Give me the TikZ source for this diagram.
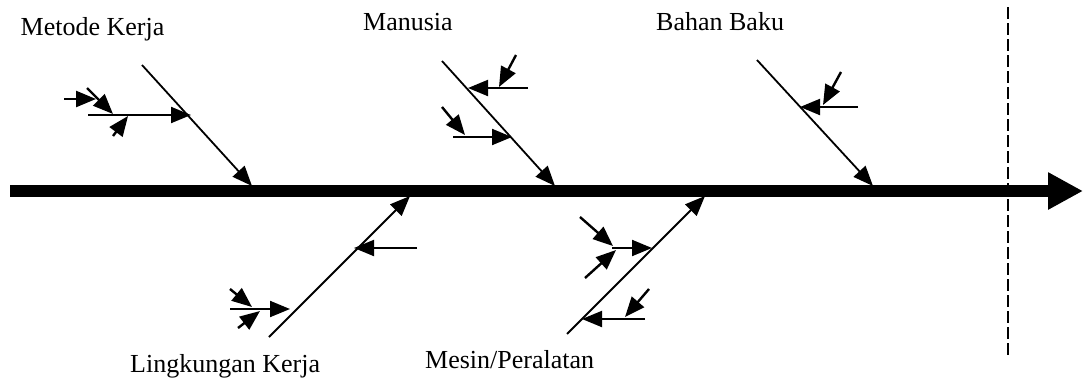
\documentclass[tikz,border=0pt]{standalone}
\usepackage{fontspec}
\setmainfont{Liberation Serif}
\usetikzlibrary{arrows.meta}
\begin{document}
\begin{tikzpicture}[x=1pt,y=-1pt,
  bone/.style={-{Triangle[length=20pt,width=16pt]}, line width=1.8pt},
  branch/.style={-{Triangle[length=20pt,width=16pt]}, line width=2pt},
  twig/.style={-{Triangle[length=20pt,width=16pt]}, line width=2.4pt},
  lbl/.style={anchor=base west, inner sep=0pt, font=\fontsize{26}{30}\selectfont}]
\useasboundingbox (0,0) rectangle (1084,381);
% spine
\coordinate (s0) at (10,191);
\coordinate (s1) at (1083,191);
\draw[line width=12pt, -{Triangle[length=35pt,width=35pt]}] (s0) -- (s1);
% dashed boundary
\coordinate (d0) at (1008,7);
\coordinate (d1) at (1008,358);
\draw[line width=1.2pt, dash pattern=on 12pt off 4pt] (d0) -- (d1);
% labels
\node[lbl] (lA) at (20.5,35) {Metode Kerja};
\node[lbl] (lB) at (363,30) {Manusia};
\node[lbl] (lC) at (656,30) {Bahan Baku};
\node[lbl] (lD) at (130,372) {Lingkungan Kerja};
\node[lbl] (lE) at (425,368) {Mesin/Peralatan};
% bones
\coordinate (A0) at (142,65);  \coordinate (A1) at (252,186);
\coordinate (B0) at (442,61);  \coordinate (B1) at (555,186);
\coordinate (C0) at (757,60);  \coordinate (C1) at (873,186);
\coordinate (D0) at (269,337); \coordinate (D1) at (410,196);
\coordinate (E0) at (567,334); \coordinate (E1) at (705,196);
\draw[bone] (A0) -- (A1);
\draw[bone] (B0) -- (B1);
\draw[bone] (C0) -- (C1);
\draw[bone] (D0) -- (D1);
\draw[bone] (E0) -- (E1);
% branches
\coordinate (a10) at (88,115);  \coordinate (a11) at (191,115);
\coordinate (b10) at (528,88);  \coordinate (b11) at (468,88);
\coordinate (b20) at (453,137); \coordinate (b21) at (512,137);
\coordinate (c10) at (858,107); \coordinate (c11) at (800,107);
\coordinate (d10) at (417,248); \coordinate (d11) at (354,248);
\coordinate (d20) at (230,309); \coordinate (d21) at (290,309);
\coordinate (e10) at (612,248); \coordinate (e11) at (652,248);
\coordinate (e20) at (645,319); \coordinate (e21) at (582,319);
\draw[branch] (a10) -- (a11);
\draw[branch] (b10) -- (b11);
\draw[branch] (b20) -- (b21);
\draw[branch] (c10) -- (c11);
\draw[branch] (d10) -- (d11);
\draw[branch] (d20) -- (d21);
\draw[branch] (e10) -- (e11);
\draw[branch] (e20) -- (e21);
% twigs
\coordinate (ta10) at (64,99);   \coordinate (ta11) at (96,99);
\coordinate (ta20) at (87,88);   \coordinate (ta21) at (113,114);
\coordinate (ta30) at (113,136); \coordinate (ta31) at (128,116);
\coordinate (tb10) at (516,55);  \coordinate (tb11) at (499,87);
\coordinate (tb20) at (442,107); \coordinate (tb21) at (465,135);
\coordinate (tc10) at (841,72);  \coordinate (tc11) at (823,105);
\coordinate (td10) at (230,289); \coordinate (td11) at (252,307);
\coordinate (td20) at (238,328); \coordinate (td21) at (260,311);
\coordinate (te10) at (580,217); \coordinate (te11) at (613,246);
\coordinate (te20) at (585,278); \coordinate (te21) at (616,250);
\coordinate (te30) at (649,289); \coordinate (te31) at (625,317);
\draw[twig] (ta10) -- (ta11);
\draw[twig] (ta20) -- (ta21);
\draw[twig] (ta30) -- (ta31);
\draw[twig] (tb10) -- (tb11);
\draw[twig] (tb20) -- (tb21);
\draw[twig] (tc10) -- (tc11);
\draw[twig] (td10) -- (td11);
\draw[twig] (td20) -- (td21);
\draw[twig] (te10) -- (te11);
\draw[twig] (te20) -- (te21);
\draw[twig] (te30) -- (te31);
\end{tikzpicture}
\end{document}
